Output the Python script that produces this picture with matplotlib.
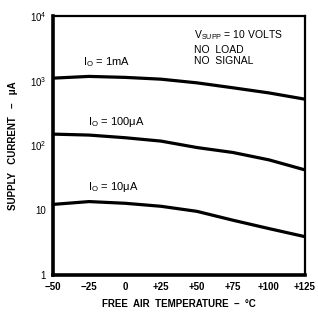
import matplotlib
matplotlib.use("Agg")
import matplotlib.pyplot as plt

# ─── Data ─────────────────────────────────────────────────────────────────────
temps = [-50, -25, 0, 25, 50, 75, 100, 125]
i_1ma = [1100, 1170, 1130, 1060, 930, 780, 650, 520]
i_100ua = [150, 145, 132, 117, 93, 78, 60, 42]
i_10ua = [12.3, 13.6, 12.8, 11.5, 9.6, 7.0, 5.2, 3.9]

xticks = [-50, -25, 0, 25, 50, 75, 100, 125]
xtick_labels = ["\u221250", "\u221225", "0", "+25", "+50", "+75", "+100", "+125"]
yticks = [1, 10, 100, 1000, 10000]
ytick_labels = ["1", "10", "10$^2$", "10$^3$", "10$^4$"]

plt.rcParams["font.family"] = ["Liberation Sans", "DejaVu Sans"]
plt.rcParams["mathtext.fontset"] = "custom"
plt.rcParams["mathtext.rm"] = "Liberation Sans"

fig = plt.figure(figsize=(3.18, 3.16), dpi=100)
ax = fig.add_axes([0.167, 0.130, 0.792, 0.819])

for series in (i_1ma, i_100ua, i_10ua):
    ax.plot(temps, series, color="black", linewidth=2.3,
            solid_capstyle="butt", solid_joinstyle="round")

ax.set_yscale("log")
ax.set_xlim(-50, 125)
ax.set_ylim(1, 10000)
ax.set_xticks(xticks)
ax.set_xticklabels(xtick_labels)
ax.set_yticks(yticks)
ax.set_yticklabels(ytick_labels)
ax.minorticks_off()
ax.tick_params(length=0, labelsize=7, pad=5)
for lab in ax.get_xticklabels():
    lab.set_fontweight("bold")

ax.spines["left"].set_linewidth(2.6)
ax.spines["bottom"].set_linewidth(2.6)
ax.spines["top"].set_linewidth(1.6)
ax.spines["right"].set_linewidth(1.6)

ax.set_xlabel("FREE  AIR  TEMPERATURE  \u2013  \u00b0C", fontsize=7,
              fontweight="bold", labelpad=5)
ax.set_ylabel("SUPPLY   CURRENT   \u2013   \u03bcA", fontsize=7,
              fontweight="bold", labelpad=8)

# curve labels
ax.text(-29, 1950, "I$_\\mathrm{O}$ = 1mA", fontsize=8, ha="left", va="center")
ax.text(-26, 230, "I$_\\mathrm{O}$ = 100\u03bcA", fontsize=8, ha="left", va="center")
ax.text(-26, 23, "I$_\\mathrm{O}$ = 10\u03bcA", fontsize=8, ha="left", va="center")

# conditions
ax.text(48, 5000, "V$_\\mathrm{SUPP}$ = 10 VOLTS", fontsize=7.5, ha="left", va="center")
ax.text(48, 2950, "NO  LOAD", fontsize=7.5, ha="left", va="center")
ax.text(48, 2000, "NO  SIGNAL", fontsize=7.5, ha="left", va="center")

fig.savefig("out.png", dpi=100)
